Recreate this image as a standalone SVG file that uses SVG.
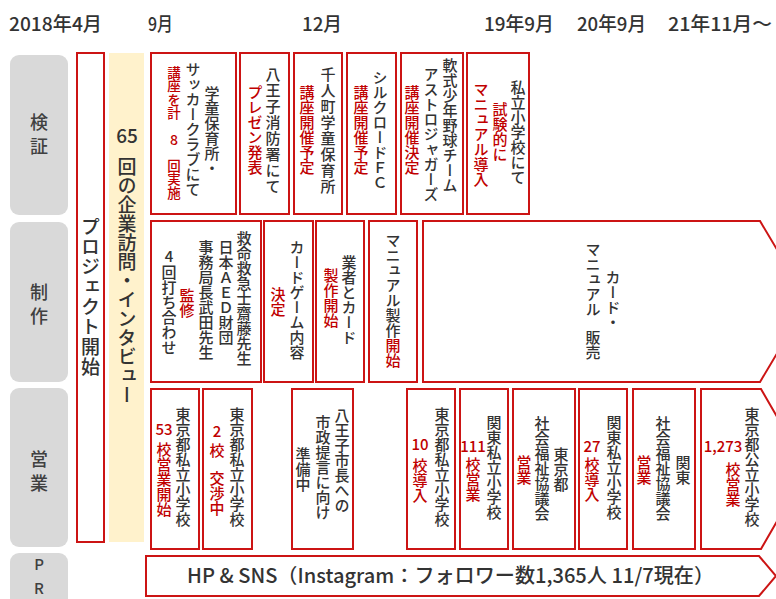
<svg xmlns="http://www.w3.org/2000/svg" width="776" height="599" viewBox="0 0 776 599">
<style>
text { font-family: "Noto Sans CJK JP", "Noto Sans", sans-serif; fill: #333; }
.v { writing-mode: vertical-rl; font-size: 15px; font-weight: 500; }
.r { fill: #C00000; font-weight: 500; }
.h { font-size: 15px; text-anchor: middle; font-weight: 500; }
.hd { font-size: 19px; font-weight: 500; fill: #333; }
.box { fill: #fff; stroke: #CC1414; stroke-width: 2; }
.lab { fill: #D9D9D9; }
.lt { font-size: 18px; font-weight: 500; fill: #404040; text-anchor: middle; }
</style>
<rect width="776" height="599" fill="#fff"/>

<g id="header">
<text class="hd" x="9" y="31" textLength="93" lengthAdjust="spacingAndGlyphs">2018年4月</text>
<text class="hd" x="148" y="31" textLength="25" lengthAdjust="spacingAndGlyphs">9月</text>
<text class="hd" x="302" y="31" textLength="40" lengthAdjust="spacingAndGlyphs">12月</text>
<text class="hd" x="484" y="31" textLength="70" lengthAdjust="spacingAndGlyphs">19年9月</text>
<text class="hd" x="577" y="31" textLength="69" lengthAdjust="spacingAndGlyphs">20年9月</text>
<text class="hd" x="668" y="31" textLength="104" lengthAdjust="spacingAndGlyphs">21年11月～</text>
</g>

<g id="label-kensho"><rect class="lab" x="10" y="55" width="58" height="160" rx="9"/><text class="lt" x="39" y="129">検</text><text class="lt" x="39" y="153">証</text></g>
<g id="label-seisaku"><rect class="lab" x="10" y="222" width="58" height="160" rx="9"/><text class="lt" x="39" y="299">制</text><text class="lt" x="39" y="323">作</text></g>
<g id="label-eigyo"><rect class="lab" x="10" y="388" width="58" height="159" rx="9"/><text class="lt" x="39" y="466">営</text><text class="lt" x="39" y="490">業</text></g>
<g id="label-pr"><rect class="lab" x="10" y="553" width="58" height="60" rx="9"/><text class="lt" x="39" y="570" style="font-size:15px">P</text><text class="lt" x="39" y="594" style="font-size:15px">R</text></g>

<g id="project-start"><rect class="box" x="77" y="53" width="27" height="489"/><text class="v" x="90.5" y="217" style="font-size:19px;letter-spacing:1px">プロジェクト開始</text></g>
<g id="interviews"><rect x="109" y="53" width="35" height="489" fill="#FFF2CC"/><text class="h" x="127" y="143" style="font-size:19px">65</text><text class="v" x="127" y="157" style="font-size:19px">回の企業訪問・インタビュー</text></g>

<!-- Row 1 -->
<g id="r1a"><rect class="box" x="151" y="53" width="85" height="161"/>
<text class="v" x="212" y="86">学童保育所・</text>
<text class="v" x="193" y="62">サッカークラブにて</text>
<text class="v r" x="174" y="66" style="font-size:13.5px">講座を計</text>
<text class="h r" x="174" y="145" style="font-size:14px">8</text>
<text class="v r" x="174" y="159" style="font-size:13.5px">回実施</text></g>
<g id="r1b"><rect class="box" x="240" y="53" width="49" height="161"/>
<text class="v" x="273" y="67" style="letter-spacing:1px">八王子消防署にて</text>
<text class="v r" x="255" y="85">プレゼン発表</text></g>
<g id="r1c"><rect class="box" x="294" y="53" width="48" height="161"/>
<text class="v" x="328" y="67" style="letter-spacing:1px">千人町学童保育所</text>
<text class="v r" x="307" y="85">講座開催予定</text></g>
<g id="r1d"><rect class="box" x="347" y="53" width="49" height="161"/>
<text class="v" x="380" y="70">シルクロードＦＣ</text>
<text class="v r" x="361" y="85">講座開催予定</text></g>
<g id="r1e"><rect class="box" x="401" y="53" width="62" height="161"/>
<text class="v" x="450" y="58">軟式少年野球チーム</text>
<text class="v" x="431" y="67">アストロジャガーズ</text>
<text class="v r" x="412" y="85">講座開催決定</text></g>
<g id="r1f"><rect class="box" x="467" y="53" width="62" height="161"/>
<text class="v" x="518" y="80">私立小学校にて</text>
<text class="v r" x="500" y="102">試験的に</text>
<text class="v r" x="481" y="82">マニュアル導入</text></g>

<!-- Row 2 -->
<g id="r2a"><rect class="box" x="151" y="221" width="110" height="161"/>
<text class="v" x="244" y="231">救命救急士齋藤先生</text>
<text class="v" x="226" y="240">日本ＡＥＤ財団</text>
<text class="v" x="206" y="240">事務局長武田先生</text>
<text class="v r" x="187" y="288">監修</text>
<text class="h" x="169" y="262">4</text>
<text class="v" x="169" y="265">回打ち合わせ</text></g>
<g id="r2b"><rect class="box" x="264" y="221" width="49" height="161"/>
<text class="v" x="297" y="240">カードゲーム内容</text>
<text class="v r" x="278" y="287">決定</text></g>
<g id="r2c"><rect class="box" x="316" y="221" width="48" height="161"/>
<text class="v" x="349" y="255">業者とカード</text>
<text class="v r" x="331" y="268">製作開始</text></g>
<g id="r2d"><rect class="box" x="369" y="221" width="48" height="161"/>
<text class="v" x="393" y="233">マニュアル製作<tspan class="r">開始</tspan></text></g>
<g id="r2e"><polygon class="box" points="423,221 760,221 808,301.5 760,382 423,382"/>
<text class="v" x="613" y="270">カード・</text>
<text class="v" x="593" y="242">マニュアル</text>
<text class="v" x="593" y="330">販売</text></g>

<!-- Row 3 -->
<g id="r3a"><rect class="box" x="151" y="389" width="48" height="160"/>
<text class="v" x="183" y="407">東京都私立小学校</text>
<text class="h r" x="164" y="435">53</text>
<text class="v r" x="164" y="442">校営業開始</text></g>
<g id="r3b"><rect class="box" x="203" y="389" width="49" height="160"/>
<text class="v" x="237" y="407">東京都私立小学校</text>
<text class="h r" x="217" y="437">2</text>
<text class="v r" x="217" y="443">校</text>
<text class="v r" x="217" y="471">交渉中</text></g>
<g id="r3c"><rect class="box" x="292" y="389" width="61" height="160"/>
<text class="v" x="342" y="408">八王子市長への</text>
<text class="v" x="323" y="415">市政提言に向け</text>
<text class="v" x="303" y="447">準備中</text></g>
<g id="r3d"><rect class="box" x="407" y="389" width="48" height="160"/>
<text class="v" x="442" y="407">東京都私立小学校</text>
<text class="h r" x="420" y="450">10</text>
<text class="v r" x="420" y="458">校導入</text></g>
<g id="r3e"><rect class="box" x="460" y="389" width="48" height="160"/>
<text class="v" x="494" y="415">関東私立小学校</text>
<text class="h r" x="473" y="452">111</text>
<text class="v r" x="473" y="457">校営業</text></g>
<g id="r3f"><rect class="box" x="513" y="389" width="62" height="160"/>
<text class="v" x="561" y="447">東京都</text>
<text class="v" x="542" y="416">社会福祉協議会</text>
<text class="v r" x="524" y="455">営業</text></g>
<g id="r3g"><rect class="box" x="579" y="389" width="48" height="160"/>
<text class="v" x="614" y="415">関東私立小学校</text>
<text class="h r" x="592" y="452">27</text>
<text class="v r" x="592" y="457">校導入</text></g>
<g id="r3h"><rect class="box" x="633" y="389" width="62" height="160"/>
<text class="v" x="683" y="455">関東</text>
<text class="v" x="663" y="416">社会福祉協議会</text>
<text class="v r" x="644" y="455">営業</text></g>
<g id="r3i"><polygon class="box" points="701,389 761,389 807,469 761,549 701,549"/>
<text class="v" x="752" y="407">東京都公立小学校</text>
<text class="h r" x="723" y="452">1,273</text>
<text class="v r" x="733" y="462">校営業</text></g>

<!-- PR -->
<g id="pr"><polygon class="box" points="146,556 759,556 776,576 759,596 146,596"/>
<text x="187" y="583" style="font-size:20px;font-weight:500" textLength="527" lengthAdjust="spacingAndGlyphs">HP &amp; SNS（Instagram：フォロワー数1,365人 11/7現在）</text></g>
</svg>
